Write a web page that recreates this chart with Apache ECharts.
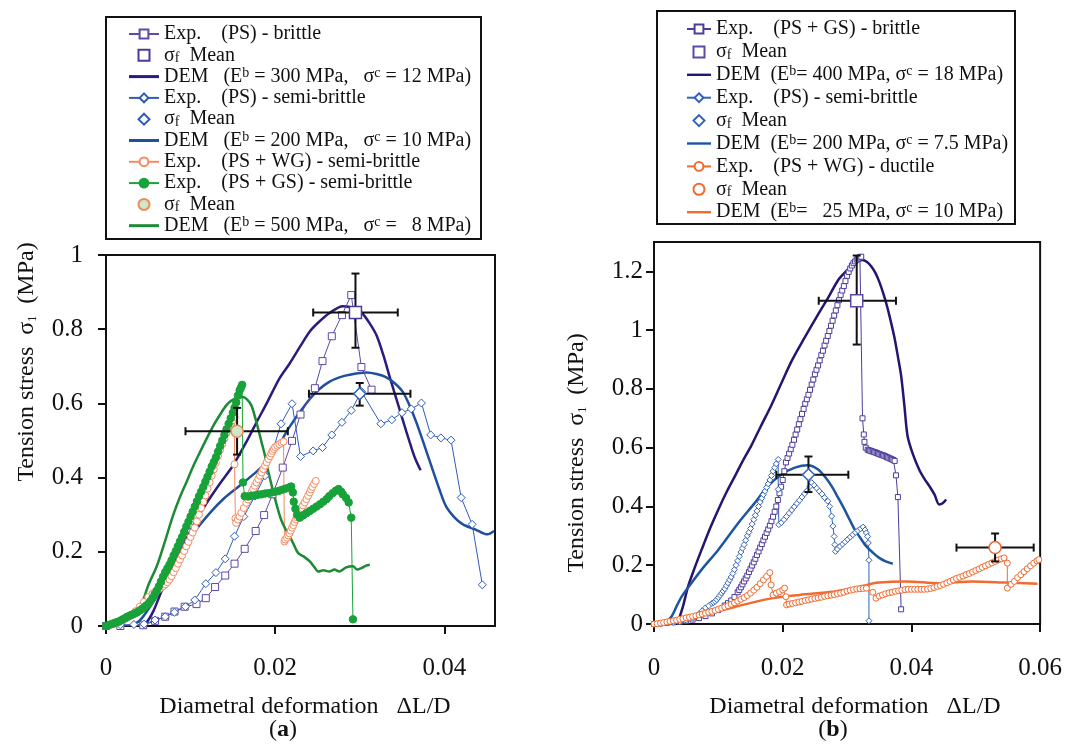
<!DOCTYPE html>
<html><head><meta charset="utf-8">
<script src="https://cdn.jsdelivr.net/npm/echarts@6/dist/echarts.min.js"></script>
<style>html,body{margin:0;padding:0;background:#fff}#c{width:1065px;height:745px}</style>
</head><body><div id="c"></div>
<script>
// ---------- tick values ----------
const aXTicks = [0, 0.02, 0.04];
const aYTicks = [0, 0.2, 0.4, 0.6, 0.8, 1];
const bXTicks = [0, 0.02, 0.04, 0.06];
const bYTicks = [0, 0.2, 0.4, 0.6, 0.8, 1, 1.2];

// ---------- chart (a) ----------
const aExpPsBrittle = [[0,0],[0.0017,0.0],[0.0044,0.002],[0.0058,0.014],[0.007,0.025],[0.0081,0.039],[0.0093,0.052],[0.0107,0.059],[0.0118,0.075],[0.0129,0.105],[0.0141,0.136],[0.0152,0.168],[0.0164,0.208],[0.0177,0.256],[0.0187,0.299],[0.0197,0.355],[0.0209,0.427],[0.022,0.499],[0.023,0.57],[0.0247,0.641],[0.0256,0.714],[0.0267,0.781],[0.0279,0.838],[0.029,0.892],[0.0302,0.698],[0.0314,0.637]];
const aExpPsSemi = [[0,0],[0.0017,0.003],[0.0033,0.004],[0.0045,0.005],[0.0058,0.016],[0.007,0.025],[0.0081,0.037],[0.0094,0.052],[0.0105,0.07],[0.0118,0.114],[0.013,0.144],[0.0141,0.181],[0.0152,0.242],[0.0163,0.295],[0.0176,0.35],[0.0188,0.405],[0.0207,0.545],[0.022,0.599],[0.023,0.457],[0.0245,0.472],[0.0256,0.481],[0.0267,0.515],[0.0279,0.549],[0.029,0.581],[0.0302,0.632],[0.0325,0.545],[0.0338,0.556],[0.035,0.575],[0.0361,0.585],[0.0373,0.601],[0.0384,0.515],[0.0396,0.507],[0.0408,0.501],[0.042,0.346],[0.0433,0.274],[0.0445,0.111]];
const aExpWgSemi = [[0,0],[0.0005,0.003],[0.001,0.006],[0.0015,0.01],[0.002,0.015],[0.0025,0.022],[0.003,0.03],[0.0035,0.04],[0.004,0.052],[0.0045,0.065],[0.005,0.078],[0.0055,0.087],[0.00575,0.091],[0.006,0.095],[0.00625,0.099],[0.0065,0.103],[0.00675,0.107],[0.007,0.112],[0.00725,0.118],[0.0075,0.125],[0.00775,0.134],[0.008,0.145],[0.00825,0.156],[0.0085,0.168],[0.00875,0.179],[0.009,0.19],[0.00925,0.202],[0.0095,0.215],[0.00975,0.227],[0.010,0.24],[0.01025,0.252],[0.0105,0.265],[0.01075,0.282],[0.011,0.3],[0.01125,0.318],[0.0115,0.335],[0.01175,0.352],[0.012,0.37],[0.01225,0.387],[0.0125,0.405],[0.01275,0.422],[0.013,0.44],[0.01325,0.458],[0.0135,0.475],[0.01375,0.49],[0.014,0.505],[0.01425,0.52],[0.0145,0.533],[0.01475,0.545],[0.015,0.555],[0.0152,0.563],[0.0152,0.436],[0.0153,0.29],[0.0154,0.278],[0.0156,0.287],[0.0158,0.295],[0.016,0.305],[0.0163,0.318],[0.0166,0.332],[0.0168,0.341],[0.017,0.35],[0.0172,0.36],[0.0174,0.369],[0.0176,0.378],[0.0178,0.387],[0.018,0.396],[0.0182,0.405],[0.0184,0.414],[0.0186,0.423],[0.0188,0.432],[0.019,0.441],[0.0192,0.45],[0.0194,0.458],[0.01955,0.465],[0.0197,0.472],[0.01985,0.477],[0.020,0.482],[0.02025,0.486],[0.0205,0.49],[0.02075,0.494],[0.021,0.497],[0.0211,0.228],[0.0212,0.233],[0.0214,0.238],[0.02155,0.244],[0.0217,0.25],[0.02185,0.257],[0.022,0.265],[0.02215,0.272],[0.0223,0.28],[0.02245,0.287],[0.0226,0.293],[0.0228,0.3],[0.023,0.31],[0.02315,0.318],[0.0233,0.325],[0.0235,0.333],[0.0237,0.342],[0.0239,0.351],[0.0241,0.36],[0.02425,0.368],[0.0244,0.375],[0.0246,0.383],[0.0248,0.391]];
const aExpGsSemi = [[0,0],[0.00025,0.002],[0.0005,0.004],[0.00075,0.006],[0.001,0.008],[0.00125,0.01],[0.0015,0.012],[0.00175,0.015],[0.002,0.018],[0.00225,0.021],[0.0025,0.025],[0.00275,0.027],[0.003,0.03],[0.00325,0.032],[0.0035,0.035],[0.00375,0.038],[0.004,0.042],[0.00425,0.046],[0.0045,0.05],[0.00475,0.055],[0.005,0.06],[0.00525,0.067],[0.0055,0.075],[0.00575,0.085],[0.006,0.095],[0.00625,0.107],[0.0065,0.12],[0.00675,0.133],[0.007,0.145],[0.00725,0.155],[0.0075,0.165],[0.00775,0.177],[0.008,0.19],[0.00825,0.202],[0.0085,0.215],[0.00875,0.228],[0.009,0.24],[0.00925,0.254],[0.0095,0.268],[0.00975,0.281],[0.010,0.295],[0.01025,0.308],[0.0105,0.322],[0.01075,0.336],[0.011,0.35],[0.01125,0.362],[0.0115,0.375],[0.01175,0.389],[0.012,0.402],[0.01225,0.416],[0.0125,0.43],[0.01275,0.442],[0.013,0.455],[0.01325,0.47],[0.0135,0.485],[0.01375,0.5],[0.014,0.515],[0.01425,0.53],[0.0145,0.545],[0.01475,0.56],[0.015,0.575],[0.0152,0.588],[0.0154,0.603],[0.0156,0.621],[0.0158,0.635],[0.01595,0.642],[0.0161,0.65],[0.0162,0.387],[0.0164,0.35],[0.0168,0.349],[0.0172,0.351],[0.0176,0.352],[0.018,0.354],[0.0184,0.355],[0.0188,0.357],[0.0192,0.358],[0.0196,0.36],[0.02,0.362],[0.0204,0.364],[0.0208,0.367],[0.0212,0.37],[0.0216,0.373],[0.0219,0.376],[0.0221,0.36],[0.0222,0.335],[0.0224,0.316],[0.0226,0.3],[0.0229,0.292],[0.0233,0.298],[0.0237,0.304],[0.0241,0.31],[0.0245,0.316],[0.0249,0.322],[0.0253,0.328],[0.0257,0.335],[0.0261,0.342],[0.0264,0.35],[0.0268,0.358],[0.0272,0.365],[0.0275,0.369],[0.0278,0.362],[0.028,0.355],[0.0284,0.345],[0.0287,0.333],[0.029,0.292],[0.0292,0.018]];
const aDem300 = [[0.004,0],[0.0048,0.01],[0.0056,0.04],[0.0065,0.09],[0.0075,0.14],[0.0085,0.19],[0.0095,0.235],[0.0107,0.287],[0.012,0.335],[0.0135,0.385],[0.015,0.432],[0.0165,0.492],[0.0178,0.549],[0.019,0.6],[0.0205,0.667],[0.0217,0.707],[0.023,0.755],[0.0241,0.794],[0.0252,0.82],[0.0264,0.843],[0.028,0.862],[0.0294,0.856],[0.0303,0.843],[0.0312,0.815],[0.032,0.783],[0.0328,0.73],[0.0335,0.675],[0.0341,0.63],[0.0347,0.585],[0.0353,0.54],[0.0359,0.496],[0.0365,0.455],[0.0372,0.42]];
const aDem200 = [[0.003,0],[0.004,0.015],[0.005,0.045],[0.006,0.08],[0.007,0.12],[0.008,0.16],[0.0091,0.206],[0.0105,0.255],[0.0123,0.305],[0.014,0.345],[0.0158,0.378],[0.0175,0.41],[0.019,0.441],[0.0203,0.48],[0.0213,0.522],[0.0221,0.55],[0.0229,0.576],[0.0241,0.612],[0.0252,0.638],[0.0264,0.658],[0.0276,0.67],[0.0288,0.677],[0.0308,0.683],[0.032,0.679],[0.0331,0.671],[0.0341,0.655],[0.0351,0.631],[0.0359,0.594],[0.0367,0.549],[0.0376,0.49],[0.0386,0.423],[0.0394,0.37],[0.0402,0.323],[0.0412,0.293],[0.0422,0.274],[0.0437,0.26],[0.0451,0.247],[0.0459,0.256]];
const aDem500 = [[0,0],[0.001,0.005],[0.002,0.012],[0.003,0.025],[0.0037,0.04],[0.0044,0.07],[0.005,0.11],[0.006,0.161],[0.007,0.23],[0.0079,0.296],[0.0087,0.345],[0.0095,0.387],[0.0103,0.43],[0.0111,0.468],[0.0119,0.505],[0.0127,0.54],[0.0135,0.57],[0.0142,0.594],[0.0148,0.607],[0.0154,0.614],[0.0162,0.617],[0.0167,0.61],[0.0172,0.594],[0.0176,0.565],[0.018,0.531],[0.0184,0.495],[0.0188,0.459],[0.0192,0.415],[0.0197,0.369],[0.0202,0.325],[0.0207,0.287],[0.0212,0.262],[0.0217,0.242],[0.0222,0.22],[0.0227,0.197],[0.0234,0.187],[0.0241,0.174],[0.0246,0.16],[0.0251,0.147],[0.0257,0.15],[0.0264,0.147],[0.027,0.152],[0.0276,0.147],[0.0284,0.158],[0.0292,0.161],[0.0297,0.152],[0.0302,0.156],[0.0307,0.162],[0.0312,0.165]];
const aMeanPs = [[0.0295,0.845]];
const aMeanPsSemi = [[0.030,0.626]];
const aMeanGs = [[0.0155,0.525]];
// error bars: [x, y, xLow, xHigh, yLow, yHigh]
const aErrors = [[0.0295,0.845,0.0245,0.0345,0.75,0.95],[0.030,0.626,0.024,0.036,0.594,0.655],[0.0155,0.525,0.0094,0.0215,0.462,0.588]];

// ---------- chart (b) ----------
const bExpGsBrittle = [[0,0],[0.001,0.002],[0.002,0.004],[0.003,0.006],[0.004,0.008],[0.005,0.011],[0.006,0.015],[0.007,0.02],[0.008,0.027],[0.009,0.036],[0.010,0.048],[0.011,0.063],[0.0115,0.071],[0.012,0.08],[0.0125,0.092],[0.013,0.108],[0.01325,0.116],[0.0135,0.125],[0.01375,0.135],[0.014,0.145],[0.01425,0.155],[0.0145,0.165],[0.01475,0.177],[0.015,0.188],[0.01525,0.199],[0.0155,0.21],[0.01575,0.222],[0.016,0.235],[0.01625,0.247],[0.0165,0.26],[0.01675,0.272],[0.017,0.285],[0.01725,0.297],[0.0175,0.31],[0.01775,0.322],[0.018,0.335],[0.01825,0.35],[0.0185,0.365],[0.01875,0.382],[0.019,0.40],[0.01925,0.422],[0.0195,0.445],[0.01975,0.467],[0.020,0.49],[0.02025,0.52],[0.0205,0.55],[0.02075,0.565],[0.021,0.58],[0.02125,0.595],[0.0215,0.61],[0.02175,0.627],[0.022,0.645],[0.02225,0.662],[0.0225,0.68],[0.02275,0.697],[0.023,0.715],[0.02325,0.732],[0.0235,0.75],[0.02375,0.765],[0.024,0.78],[0.02425,0.797],[0.0245,0.815],[0.02475,0.832],[0.025,0.85],[0.02525,0.865],[0.0255,0.88],[0.02575,0.897],[0.026,0.915],[0.02625,0.93],[0.0265,0.948],[0.02675,0.964],[0.027,0.98],[0.02725,0.997],[0.0275,1.015],[0.02775,1.032],[0.028,1.05],[0.02825,1.067],[0.0285,1.085],[0.02875,1.102],[0.029,1.12],[0.02925,1.135],[0.0295,1.15],[0.02975,1.167],[0.030,1.185],[0.03025,1.198],[0.0305,1.21],[0.03075,1.22],[0.031,1.228],[0.03125,1.234],[0.0315,1.24],[0.03175,1.244],[0.032,1.248],[0.0322,1.25],[0.0324,0.70],[0.0326,0.645],[0.0327,0.62],[0.0329,0.60],[0.0332,0.593],[0.0334,0.591],[0.0336,0.59],[0.0338,0.588],[0.034,0.587],[0.0342,0.585],[0.0344,0.584],[0.0346,0.582],[0.0348,0.58],[0.035,0.578],[0.0352,0.577],[0.0354,0.575],[0.0356,0.574],[0.0358,0.572],[0.036,0.57],[0.0362,0.568],[0.0364,0.566],[0.0366,0.564],[0.0368,0.562],[0.037,0.56],[0.0372,0.558],[0.0374,0.555],[0.0376,0.506],[0.0379,0.432],[0.0384,0.05]];
const bExpPsSemi = [[0,0],[0.001,0.001],[0.002,0.003],[0.003,0.005],[0.004,0.008],[0.005,0.013],[0.006,0.02],[0.0065,0.027],[0.007,0.035],[0.0075,0.045],[0.008,0.055],[0.0085,0.062],[0.009,0.07],[0.00925,0.073],[0.0095,0.077],[0.00975,0.083],[0.010,0.09],[0.01025,0.097],[0.0105,0.105],[0.01075,0.112],[0.011,0.12],[0.01125,0.13],[0.0115,0.14],[0.01175,0.15],[0.012,0.16],[0.01225,0.172],[0.0125,0.185],[0.01275,0.2],[0.013,0.215],[0.01325,0.23],[0.0135,0.245],[0.01375,0.258],[0.014,0.27],[0.01425,0.285],[0.0145,0.3],[0.01475,0.312],[0.015,0.325],[0.01525,0.34],[0.0155,0.355],[0.01575,0.37],[0.016,0.385],[0.01625,0.4],[0.0165,0.415],[0.01675,0.428],[0.017,0.44],[0.01725,0.452],[0.0175,0.465],[0.01775,0.477],[0.018,0.49],[0.01825,0.505],[0.0185,0.52],[0.01875,0.532],[0.019,0.545],[0.0193,0.56],[0.0193,0.458],[0.0194,0.338],[0.0198,0.345],[0.0202,0.355],[0.0206,0.366],[0.021,0.377],[0.0214,0.388],[0.0218,0.399],[0.0222,0.41],[0.0226,0.421],[0.023,0.432],[0.0234,0.443],[0.0238,0.454],[0.0242,0.467],[0.0245,0.481],[0.0249,0.472],[0.0253,0.462],[0.0257,0.452],[0.0261,0.442],[0.0265,0.43],[0.027,0.418],[0.0273,0.40],[0.0276,0.367],[0.0278,0.333],[0.028,0.298],[0.0281,0.27],[0.0282,0.247],[0.0285,0.255],[0.0289,0.264],[0.0293,0.272],[0.0297,0.28],[0.0301,0.288],[0.0305,0.296],[0.0309,0.304],[0.0313,0.312],[0.0317,0.318],[0.0321,0.324],[0.0325,0.33],[0.0328,0.32],[0.033,0.31],[0.0332,0.298],[0.0333,0.276],[0.0334,0.217],[0.0334,0.011]];
const bExpWgDuctile = [[0,0],[0.0005,0.001],[0.001,0.003],[0.0015,0.005],[0.002,0.007],[0.0025,0.009],[0.003,0.011],[0.0035,0.013],[0.004,0.016],[0.0045,0.018],[0.005,0.021],[0.0055,0.023],[0.006,0.026],[0.0065,0.028],[0.007,0.031],[0.0075,0.034],[0.008,0.037],[0.0085,0.04],[0.009,0.043],[0.0095,0.046],[0.010,0.05],[0.0105,0.054],[0.011,0.058],[0.0115,0.062],[0.012,0.067],[0.0125,0.072],[0.013,0.078],[0.0135,0.084],[0.014,0.09],[0.0145,0.097],[0.015,0.105],[0.0155,0.115],[0.016,0.125],[0.0165,0.137],[0.017,0.15],[0.0175,0.162],[0.018,0.175],[0.0182,0.133],[0.0185,0.099],[0.019,0.105],[0.0195,0.11],[0.020,0.116],[0.0203,0.122],[0.0205,0.093],[0.0206,0.065],[0.021,0.068],[0.0215,0.07],[0.022,0.072],[0.0225,0.075],[0.023,0.077],[0.0235,0.08],[0.024,0.082],[0.0245,0.085],[0.025,0.087],[0.0255,0.089],[0.026,0.091],[0.0265,0.094],[0.027,0.096],[0.0275,0.098],[0.028,0.1],[0.0285,0.103],[0.029,0.105],[0.0295,0.108],[0.030,0.112],[0.0305,0.115],[0.031,0.117],[0.0315,0.119],[0.032,0.12],[0.0325,0.121],[0.033,0.122],[0.034,0.108],[0.0345,0.088],[0.035,0.095],[0.0355,0.099],[0.036,0.103],[0.0365,0.106],[0.037,0.108],[0.0375,0.111],[0.038,0.113],[0.0385,0.115],[0.039,0.117],[0.0395,0.118],[0.040,0.118],[0.0405,0.118],[0.041,0.118],[0.0415,0.118],[0.042,0.118],[0.0425,0.119],[0.043,0.121],[0.0435,0.124],[0.044,0.128],[0.0445,0.131],[0.045,0.135],[0.0455,0.14],[0.046,0.145],[0.0465,0.15],[0.047,0.155],[0.0475,0.159],[0.048,0.163],[0.0485,0.168],[0.049,0.172],[0.0495,0.177],[0.050,0.182],[0.0505,0.187],[0.051,0.193],[0.0515,0.198],[0.052,0.203],[0.0525,0.208],[0.053,0.213],[0.0535,0.218],[0.054,0.222],[0.0544,0.225],[0.0549,0.207],[0.0549,0.122],[0.0555,0.135],[0.056,0.145],[0.0565,0.158],[0.057,0.168],[0.0575,0.178],[0.058,0.188],[0.0585,0.198],[0.059,0.207],[0.0595,0.215],[0.0598,0.219]];
const bDem400 = [[0.0032,0],[0.0038,0.014],[0.0045,0.06],[0.0053,0.128],[0.0063,0.19],[0.0074,0.253],[0.0087,0.325],[0.01,0.39],[0.0113,0.45],[0.0126,0.504],[0.0138,0.555],[0.0151,0.606],[0.0166,0.673],[0.0182,0.743],[0.0197,0.815],[0.0213,0.891],[0.0229,0.955],[0.0245,1.016],[0.0258,1.065],[0.027,1.108],[0.0286,1.17],[0.0296,1.195],[0.0306,1.216],[0.0315,1.232],[0.0324,1.239],[0.0331,1.232],[0.0338,1.216],[0.0344,1.195],[0.035,1.165],[0.0357,1.12],[0.0363,1.074],[0.0369,1.02],[0.0374,0.971],[0.0379,0.91],[0.0384,0.845],[0.0389,0.745],[0.0394,0.64],[0.0402,0.58],[0.0412,0.526],[0.042,0.495],[0.0428,0.469],[0.0436,0.44],[0.0443,0.407],[0.0448,0.41],[0.0454,0.424]];
const bDem200 = [[0.0015,0],[0.0027,0.025],[0.0035,0.06],[0.0043,0.093],[0.0056,0.133],[0.0074,0.185],[0.01,0.253],[0.0131,0.344],[0.0157,0.413],[0.0177,0.469],[0.0198,0.509],[0.0219,0.532],[0.0239,0.54],[0.0255,0.526],[0.0266,0.5],[0.0276,0.469],[0.0286,0.43],[0.0296,0.39],[0.0304,0.355],[0.0312,0.321],[0.032,0.295],[0.033,0.264],[0.034,0.243],[0.035,0.225],[0.036,0.213],[0.0371,0.205]];
const bDem25 = [[0,0],[0.0045,0.019],[0.0097,0.042],[0.0149,0.071],[0.0185,0.088],[0.0226,0.099],[0.0278,0.11],[0.0305,0.12],[0.033,0.132],[0.0345,0.14],[0.0392,0.145],[0.0443,0.139],[0.0495,0.145],[0.0547,0.141],[0.0596,0.137]];
const bMeanGs = [[0.0315,1.10]];
const bMeanPs = [[0.024,0.508]];
const bMeanWg = [[0.053,0.26]];
const bErrors = [[0.0315,1.10,0.0256,0.0376,0.951,1.254],[0.024,0.508,0.019,0.0302,0.449,0.57],[0.053,0.26,0.047,0.059,0.213,0.308]];

// ---------- legend labels ----------
const legendText = {
  a_exp1: 'Exp.    (PS) - brittle',
  a_mean1: 'σ{sub|f}  Mean',
  a_dem1: 'DEM   (E{sup|b} = 300 MPa,   σ{sup|c} = 12 MPa)',
  a_exp2: 'Exp.    (PS) - semi-brittle',
  a_mean2: 'σ{sub|f}  Mean',
  a_dem2: 'DEM   (E{sup|b} = 200 MPa,   σ{sup|c} = 10 MPa)',
  a_exp3: 'Exp.    (PS + WG) - semi-brittle',
  a_exp4: 'Exp.    (PS + GS) - semi-brittle',
  a_mean3: 'σ{sub|f}  Mean',
  a_dem3: 'DEM   (E{sup|b} = 500 MPa,   σ{sup|c} =   8 MPa)',
  b_exp1: 'Exp.    (PS + GS) - brittle',
  b_mean1: 'σ{sub|f}  Mean',
  b_dem1: 'DEM  (E{sup|b}= 400 MPa, σ{sup|c} = 18 MPa)',
  b_exp2: 'Exp.    (PS) - semi-brittle',
  b_mean2: 'σ{sub|f}  Mean',
  b_dem2: 'DEM  (E{sup|b}= 200 MPa, σ{sup|c} = 7.5 MPa)',
  b_exp3: 'Exp.    (PS + WG) - ductile',
  b_mean3: 'σ{sub|f}  Mean',
  b_dem3: 'DEM  (E{sup|b}=   25 MPa, σ{sup|c} = 10 MPa)'
};

const FF = 'Liberation Serif, Times New Roman, serif';
const INK = '#111';
const richLeg = {
  sup: {fontSize: 14, lineHeight: 12, verticalAlign: 'top', fontFamily: FF, color: INK},
  sub: {fontSize: 14, lineHeight: 8, verticalAlign: 'bottom', fontFamily: FF, color: INK}
};

function expSeries(name, data, xi, symbol, size, color, filled) {
  return {
    name, type: 'line', xAxisIndex: xi, yAxisIndex: xi, data,
    symbol, symbolSize: size, showSymbol: true, showAllSymbol: true,
    lineStyle: {color, width: 1},
    itemStyle: {color: filled ? color : '#fff', borderColor: color, borderWidth: 1},
    z: 2
  };
}
function demSeries(name, data, xi, color, width) {
  return {
    name, type: 'line', xAxisIndex: xi, yAxisIndex: xi, data,
    symbol: 'none', showSymbol: false, smooth: 0.3,
    lineStyle: {color, width}, itemStyle: {color}, z: 2
  };
}
function meanSeries(name, data, xi, symbol, fill, border) {
  return {
    name, type: 'scatter', xAxisIndex: xi, yAxisIndex: xi, data,
    symbol, symbolSize: 12,
    itemStyle: {color: fill, borderColor: border, borderWidth: 1.5, opacity: 1}, z: 5
  };
}
function renderErr(params, api) {
  const x = api.value(0), y = api.value(1);
  const L = api.coord([api.value(2), y]), R = api.coord([api.value(3), y]);
  const B = api.coord([x, api.value(4)]), T = api.coord([x, api.value(5)]);
  const h = 4;
  const st = {stroke: INK, lineWidth: 2, fill: null};
  const seg = (x1, y1, x2, y2) => ({type: 'line', shape: {x1, y1, x2, y2}, style: st});
  return {type: 'group', children: [
    seg(L[0], L[1], R[0], R[1]), seg(L[0], L[1] - h, L[0], L[1] + h), seg(R[0], R[1] - h, R[0], R[1] + h),
    seg(B[0], B[1], T[0], T[1]), seg(B[0] - h, B[1], B[0] + h, B[1]), seg(T[0] - h, T[1], T[0] + h, T[1])
  ]};
}
function errSeries(name, data, xi) {
  return {name, type: 'custom', xAxisIndex: xi, yAxisIndex: xi, data,
    dimensions: ['x', 'y', 'xl', 'xh', 'yl', 'yh'], encode: {x: 0, y: 1},
    renderItem: renderErr, z: 4, silent: true};
}
function axis(gi, max, ticks, margin) {
  return {gridIndex: gi, type: 'value', min: 0, max,
    axisLine: {onZero: false, lineStyle: {color: INK, width: 2}},
    axisTick: {length: 8, customValues: ticks, lineStyle: {color: INK, width: 2}},
    axisLabel: {customValues: ticks, margin, fontSize: 25, fontFamily: FF, color: INK},
    splitLine: {show: false}};
}
const iconDem = 'path://M0,0H30V3H0Z';
const iconSquare = 'path://M0,0H10V10H0Z';
const iconDiamond = 'path://M5,0L10,5L5,10L0,5Z';
const legendIcons = {a_dem1: iconDem, a_dem2: iconDem, a_dem3: iconDem, b_dem1: iconDem, b_dem2: iconDem, b_dem3: iconDem,
  a_mean1: iconSquare, b_mean1: iconSquare, a_mean2: iconDiamond, b_mean2: iconDiamond, a_mean3: 'circle', b_mean3: 'circle'};
function legend(names, left, top, itemWidth, lineH, gap) {
  return {
    orient: 'vertical', left, top, padding: 0, itemWidth, itemHeight: 11, itemGap: gap,
    selectedMode: false, symbolKeepAspect: true,
    data: names.map(n => legendIcons[n] ? {name: n, icon: legendIcons[n]} : {name: n}),
    formatter: n => legendText[n],
    textStyle: {fontSize: 20, fontFamily: FF, color: INK, lineHeight: lineH, rich: richLeg}
  };
}

const chart = echarts.init(document.getElementById('c'), null, {renderer: 'canvas'});
chart.setOption({
  animation: false,
  backgroundColor: '#fff',
  grid: [
    {left: 106, top: 255, width: 389, height: 371, show: true, borderColor: INK, borderWidth: 2, backgroundColor: 'transparent'},
    {left: 654, top: 242, width: 388, height: 382, show: true, borderColor: INK, borderWidth: 2, backgroundColor: 'transparent'}
  ],
  xAxis: [axis(0, 0.046, aXTicks, 30), axis(1, 0.06, bXTicks, 32)],
  yAxis: [axis(0, 1, aYTicks, 23), axis(1, 1.3, bYTicks, 11)],
  legend: [
    legend(['a_exp1','a_mean1','a_dem1','a_exp2','a_mean2','a_dem2','a_exp3','a_exp4','a_mean3','a_dem3'], 128, 24, 30, 20, 1.3),
    legend(['b_exp1','b_mean1','b_dem1','b_exp2','b_mean2','b_dem2','b_exp3','b_mean3','b_dem3'], 686, 18.5, 24, 21, 1.9)
  ],
  series: [
    demSeries('a_dem1', aDem300, 0, '#2B1B7E', 2.5),
    demSeries('a_dem2', aDem200, 0, '#1F4F9E', 2.5),
    expSeries('a_exp1', aExpPsBrittle, 0, 'rect', 7, '#5E48A8', false),
    expSeries('a_exp2', aExpPsSemi, 0, 'diamond', 8, '#2F5DB8', false),
    expSeries('a_exp3', aExpWgSemi, 0, 'circle', 7, '#F58A5E', false),
    expSeries('a_exp4', aExpGsSemi, 0, 'circle', 7.5, '#18A23A', true),
    demSeries('a_dem3', aDem500, 0, '#1D8A36', 2.5),
    errSeries('a_err', aErrors, 0),
    meanSeries('a_mean1', aMeanPs, 0, 'rect', '#fff', '#4B3A9B'),
    meanSeries('a_mean2', aMeanPsSemi, 0, 'diamond', '#fff', '#2F5DB8'),
    meanSeries('a_mean3', aMeanGs, 0, 'circle', '#CDE8C8', '#F08A5A'),

    expSeries('b_exp1', bExpGsBrittle, 1, 'rect', 5, '#4E3C9C', false),
    expSeries('b_exp2', bExpPsSemi, 1, 'diamond', 6, '#3462B5', false),
    expSeries('b_exp3', bExpWgDuctile, 1, 'circle', 6, '#F26A2E', false),
    demSeries('b_dem1', bDem400, 1, '#26156F', 2.5),
    demSeries('b_dem2', bDem200, 1, '#1E55A0', 2.5),
    demSeries('b_dem3', bDem25, 1, '#F26A2E', 2.5),
    errSeries('b_err', bErrors, 1),
    meanSeries('b_mean1', bMeanGs, 1, 'rect', '#fff', '#5E4AA5'),
    meanSeries('b_mean2', bMeanPs, 1, 'diamond', '#fff', '#3462B5'),
    meanSeries('b_mean3', bMeanWg, 1, 'circle', '#fff', '#F26A2E')
  ],
  graphic: [
    {type: 'rect', shape: {x: 106, y: 17, width: 375, height: 222}, style: {fill: null, stroke: INK, lineWidth: 2}, silent: true},
    {type: 'rect', shape: {x: 657, y: 11, width: 358, height: 213}, style: {fill: null, stroke: INK, lineWidth: 2}, silent: true},
    {type: 'text', x: 27, y: 362, rotation: Math.PI / 2, silent: true,
      style: {text: 'Tension stress  σ{s|1}  (MPa)', fontSize: 24, fontFamily: FF, fill: INK, align: 'center', verticalAlign: 'middle',
        rich: {s: {fontSize: 12, lineHeight: 6, verticalAlign: 'bottom', fontFamily: FF, fill: INK}}}},
    {type: 'text', x: 577, y: 453, rotation: Math.PI / 2, silent: true,
      style: {text: 'Tension stress  σ{s|1}  (MPa)', fontSize: 24, fontFamily: FF, fill: INK, align: 'center', verticalAlign: 'middle',
        rich: {s: {fontSize: 12, lineHeight: 6, verticalAlign: 'bottom', fontFamily: FF, fill: INK}}}},
    {type: 'text', x: 305, y: 707, silent: true,
      style: {text: 'Diametral deformation   ΔL/D', fontSize: 24, fontFamily: FF, fill: INK, align: 'center', verticalAlign: 'middle'}},
    {type: 'text', x: 855, y: 707, silent: true,
      style: {text: 'Diametral deformation   ΔL/D', fontSize: 24, fontFamily: FF, fill: INK, align: 'center', verticalAlign: 'middle'}},
    {type: 'text', x: 283, y: 730, silent: true,
      style: {text: '({b|a})', fontSize: 24, fontFamily: FF, fill: INK, align: 'center', verticalAlign: 'middle',
        rich: {b: {fontSize: 24, fontWeight: 'bold', fontFamily: FF, fill: INK}}}},
    {type: 'text', x: 833, y: 730, silent: true,
      style: {text: '({b|b})', fontSize: 24, fontFamily: FF, fill: INK, align: 'center', verticalAlign: 'middle',
        rich: {b: {fontSize: 24, fontWeight: 'bold', fontFamily: FF, fill: INK}}}}
  ]
});
</script></body></html>
